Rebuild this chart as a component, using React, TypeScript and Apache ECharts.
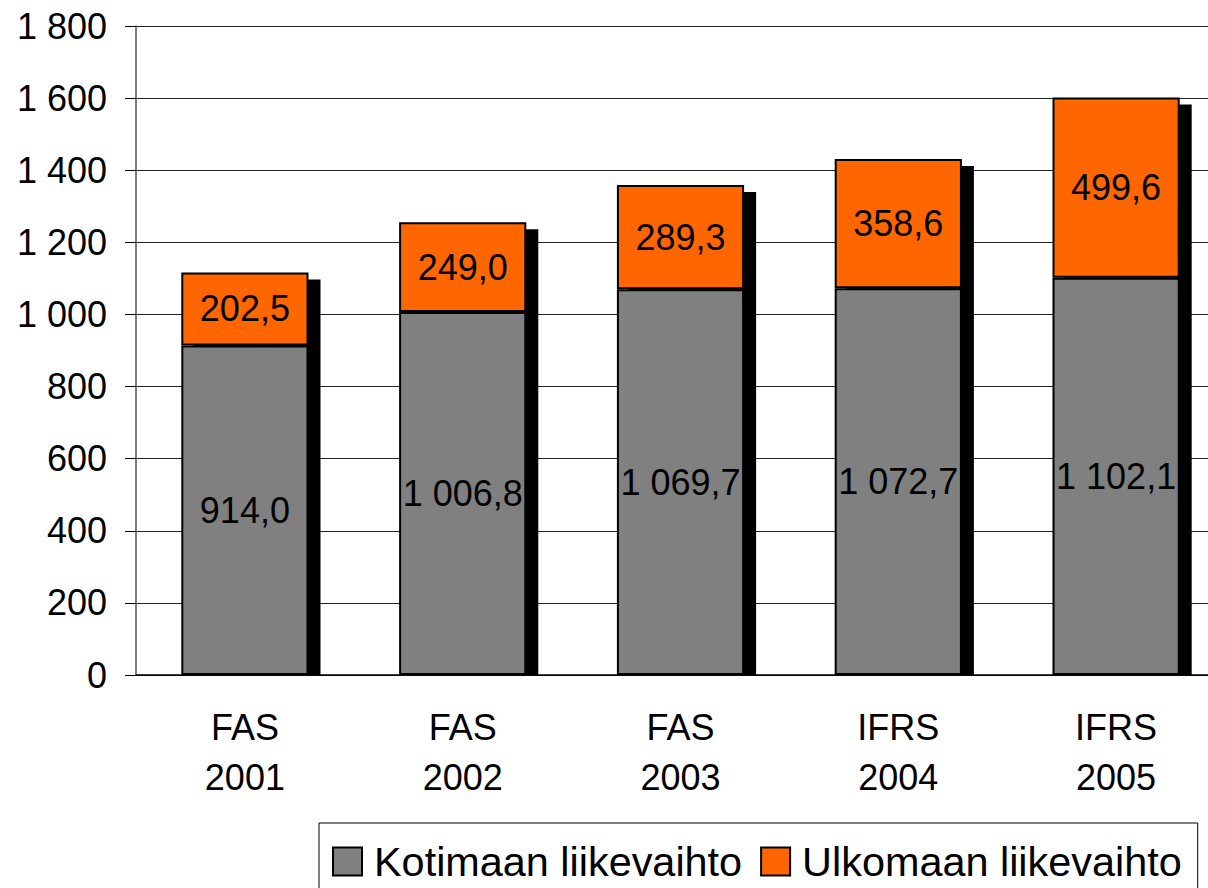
import React, { useEffect, useRef } from "react";
import * as echarts from "echarts";

const categories = ["FAS\n2001", "FAS\n2002", "FAS\n2003", "IFRS\n2004", "IFRS\n2005"];
const domestic = [914.0, 1006.8, 1069.7, 1072.7, 1102.1];
const foreign = [202.5, 249.0, 289.3, 358.6, 499.6];
const yTicks = { min: 0, max: 1800, interval: 200 };

const FONT = "'Liberation Sans', Arial, sans-serif";

function fmtNum(v: number, decimals: number): string {
  const s = v.toFixed(decimals);
  const [intPart, dec] = s.split(".");
  const withSpace = intPart.replace(/\B(?=(\d{3})+(?!\d))/g, " ");
  return dec !== undefined ? `${withSpace},${dec}` : withSpace;
}

export default function App() {
  const ref = useRef<HTMLDivElement>(null);
  useEffect(() => {
    if (!ref.current) return;
    const chart = echarts.init(ref.current, null, { renderer: "svg" });
    const totals = domestic.map((d, i) => d + foreign[i]);
    const barFrac = 0.584;
    chart.setOption({
      animation: false,
      backgroundColor: "#ffffff",
      textStyle: { fontFamily: FONT },
      grid: { left: 136, top: 26, width: 1089, height: 649, containLabel: false },
      legend: {
        left: 319,
        top: 823,
        width: 878,
        padding: [18, 16, 40, 13],
        borderColor: "#000",
        borderWidth: 1,
        itemWidth: 29,
        itemHeight: 28,
        itemGap: 18,
        icon: "rect",
        textStyle: { fontSize: 41.4, color: "#000", fontFamily: FONT, padding: [0, 0, 0, 7] },
        data: ["Kotimaan liikevaihto", "Ulkomaan liikevaihto"],
      },
      xAxis: {
        type: "category",
        data: categories,
        axisLine: { lineStyle: { color: "#000", width: 1.5 } },
        axisTick: { length: 12, lineStyle: { color: "#000", width: 1 } },
        axisLabel: { fontSize: 36, color: "#000", lineHeight: 50, margin: 27, fontFamily: FONT },
      },
      yAxis: {
        type: "value",
        min: yTicks.min,
        max: yTicks.max,
        interval: yTicks.interval,
        axisLine: { show: true, lineStyle: { color: "#555", width: 1.5 } },
        axisTick: { show: true, length: 11, lineStyle: { color: "#000", width: 1 } },
        axisLabel: {
          fontSize: 36,
          color: "#000",
          margin: 29,
          fontFamily: FONT,
          formatter: (v: number) => fmtNum(v, 0),
        },
        splitLine: { show: true, lineStyle: { color: "#222", width: 1 } },
      },
      series: [
        {
          type: "custom",
          name: "shadow",
          silent: true,
          z: 1,
          renderItem: (params: any, api: any) => {
            const idx = api.value(0);
            const top = api.coord([idx, api.value(1)]);
            const base = api.coord([idx, 0]);
            const w = api.size([1, 0])[0] * barFrac;
            return {
              type: "rect",
              shape: { x: top[0] - w / 2 + 12, y: top[1] + 7, width: w, height: base[1] - top[1] - 7 },
              style: { fill: "#000" },
            };
          },
          data: totals.map((t, i) => [i, t]),
        },
        {
          type: "bar",
          name: "Kotimaan liikevaihto",
          stack: "total",
          z: 3,
          barWidth: `${barFrac * 100}%`,
          data: domestic,
          itemStyle: { color: "#808080", borderColor: "#000", borderWidth: 2 },
          label: {
            show: true,
            position: "inside",
            fontSize: 36,
            color: "#000",
            fontFamily: FONT,
            formatter: (p: any) => fmtNum(p.value, 1),
          },
        },
        {
          type: "bar",
          name: "Ulkomaan liikevaihto",
          stack: "total",
          z: 3,
          barWidth: `${barFrac * 100}%`,
          data: foreign,
          itemStyle: { color: "#FF6600", borderColor: "#000", borderWidth: 2 },
          label: {
            show: true,
            position: "inside",
            fontSize: 36,
            color: "#000",
            fontFamily: FONT,
            formatter: (p: any) => fmtNum(p.value, 1),
          },
        },
      ],
    });
    return () => chart.dispose();
  }, []);
  return (
    <div style={{ position: "absolute", left: 0, top: 0, width: 1208, height: 888, overflow: "hidden", background: "#fff" }}>
      <div ref={ref} style={{ position: "absolute", left: 0, top: 0, width: 1240, height: 888 }} />
    </div>
  );
}
